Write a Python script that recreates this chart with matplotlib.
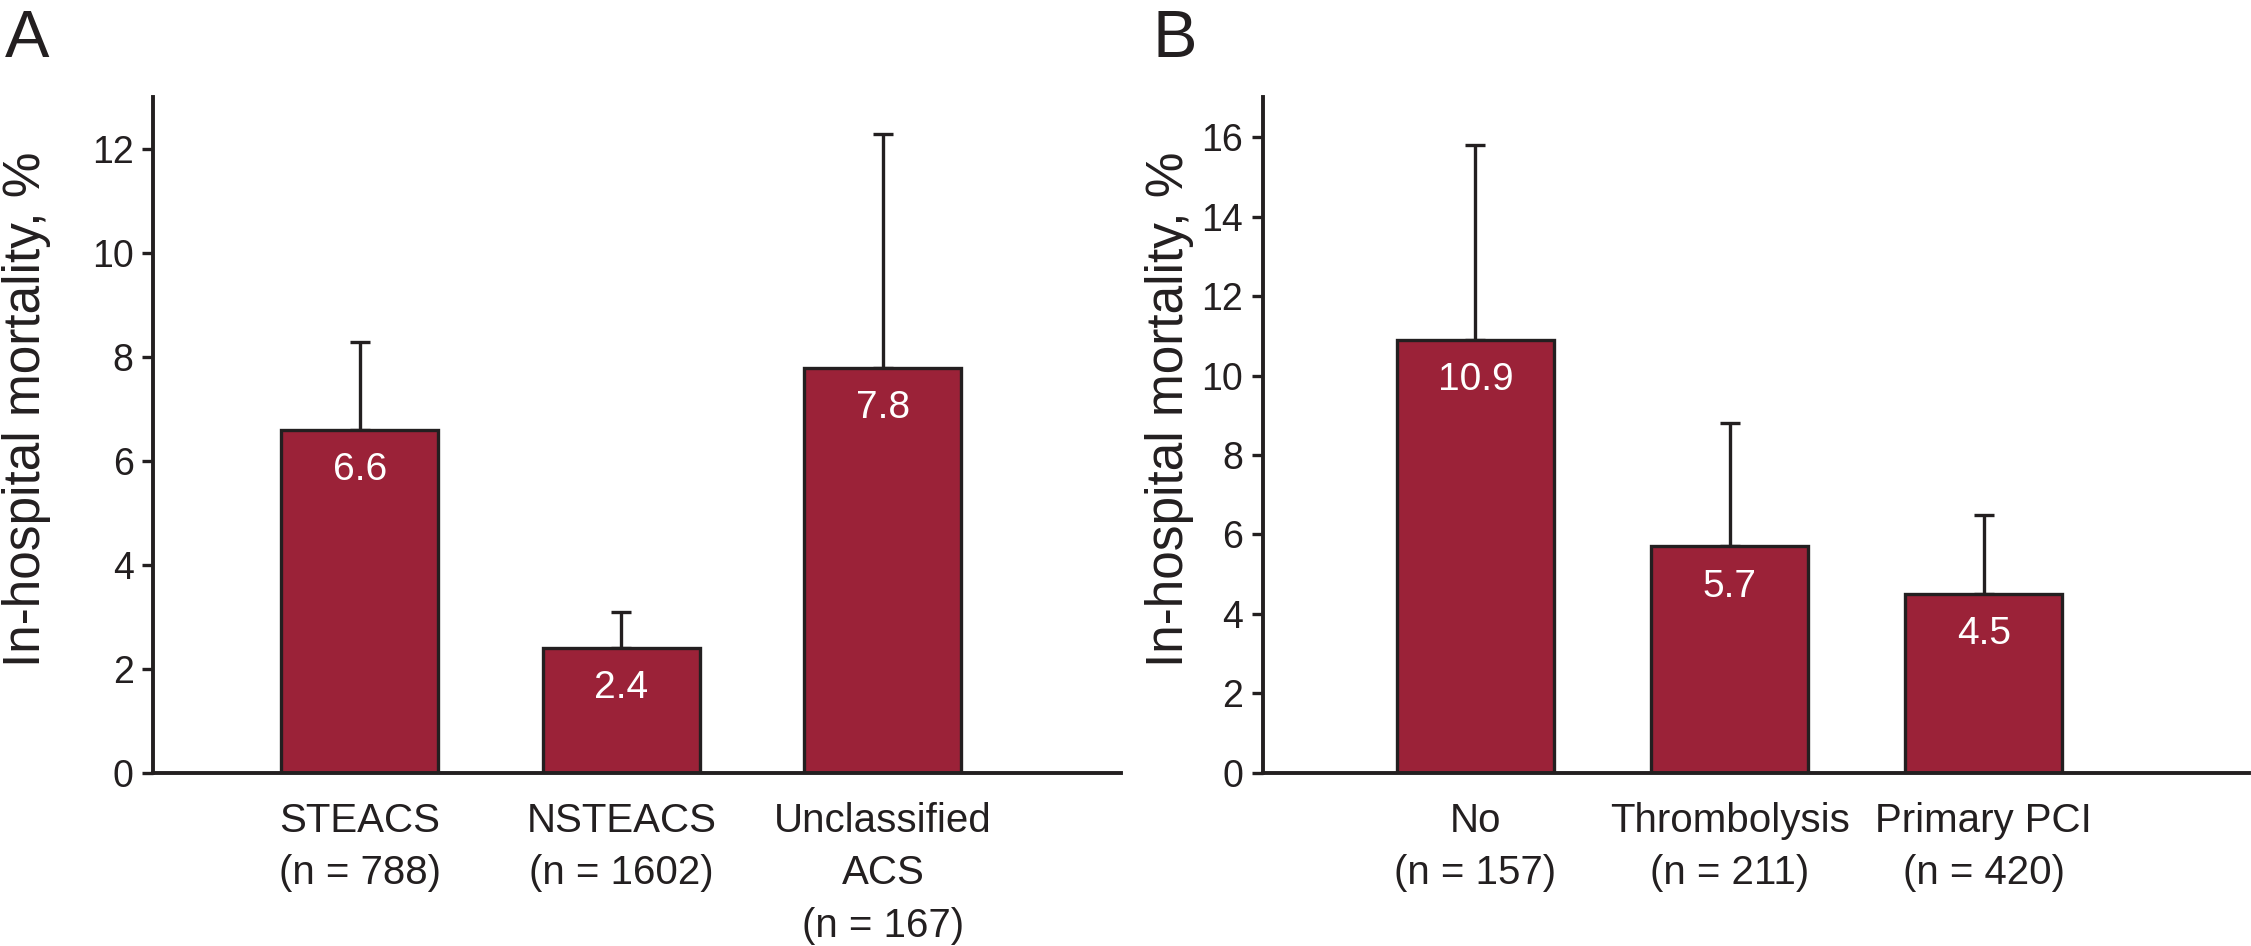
import numpy as np
import matplotlib
matplotlib.use('Agg')
import matplotlib.pyplot as plt

# panel A
a_labels = ['STEACS\n(n = 788)', 'NSTEACS\n(n = 1602)', 'Unclassified\nACS\n(n = 167)']
a_values = [6.6, 2.4, 7.8]
a_upper = [8.3, 3.1, 12.3]

# panel B
b_labels = ['No\n(n = 157)', 'Thrombolysis\n(n = 211)', 'Primary PCI\n(n = 420)']
b_values = [10.9, 5.7, 4.5]
b_upper = [15.8, 8.8, 6.5]

bar_color = '#9b2238'
dark = '#231f20'

plt.rcParams['font.family'] = ['Liberation Sans', 'DejaVu Sans']

fig = plt.figure(figsize=(22.51, 9.46), dpi=100)
axA = fig.add_axes([0.068, 0.183, 0.430, 0.714])
axB = fig.add_axes([0.561, 0.183, 0.438, 0.714])


def draw_panel(ax, labels, values, upper, ymax, yticks, xlim, width, label_x):
    x = np.arange(len(values))
    ax.bar(x, values, width=width, color=bar_color, edgecolor=dark, linewidth=2.4, zorder=2)
    err = np.array(upper) - np.array(values)
    ax.errorbar(x, values, yerr=[np.zeros(len(values)), err], fmt='none',
                ecolor=dark, elinewidth=2.4, capsize=7, capthick=2.4, zorder=1)
    for xi, v in zip(x, values):
        ax.annotate(str(v), (xi, v), xytext=(0, -29), textcoords='offset points',
                    ha='center', va='center', color='white', fontsize=28, zorder=3)
    ax.set_ylim(0, ymax)
    ax.set_xlim(*xlim)
    ax.set_yticks(yticks)
    ax.set_xticks(x)
    ax.set_xticklabels(labels, linespacing=1.48)
    ax.tick_params(axis='y', direction='out', length=8, width=2.4, labelsize=27,
                   color=dark, labelcolor=dark, pad=6)
    ax.tick_params(axis='x', length=0, labelsize=29, labelcolor=dark, pad=21)
    for s in ['top', 'right']:
        ax.spines[s].set_visible(False)
    for s in ['left', 'bottom']:
        ax.spines[s].set_linewidth(2.8)
        ax.spines[s].set_color(dark)
    ax.set_ylabel('In-hospital mortality, %', fontsize=37, color=dark)
    ax.yaxis.set_label_coords(label_x, 0.538)


draw_panel(axA, a_labels, a_values, a_upper, 13, np.arange(0, 13, 2), (-0.79, 2.91), 0.6, -0.105)
draw_panel(axB, b_labels, b_values, b_upper, 17, np.arange(0, 17, 2), (-0.837, 3.043), 0.62, -0.070)

fig.text(0.002, 0.99, 'A', fontsize=48, va='top', ha='left', color=dark)
fig.text(0.512, 0.99, 'B', fontsize=48, va='top', ha='left', color=dark)

fig.savefig('out.png', dpi=100)
